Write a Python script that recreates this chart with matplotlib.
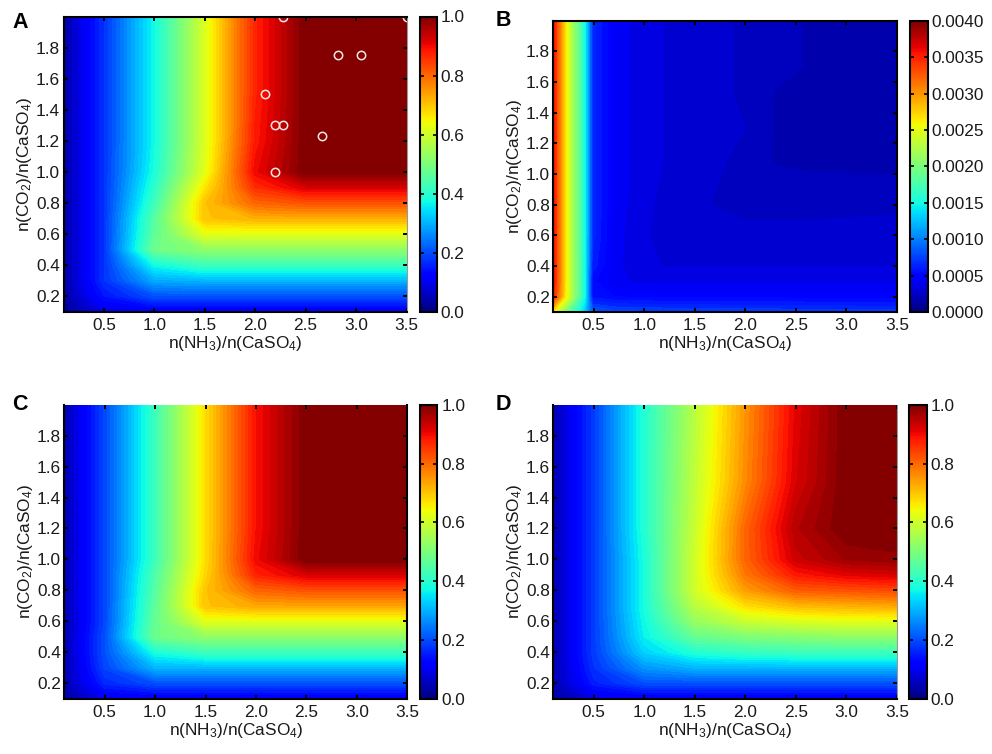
import numpy as np
import matplotlib
matplotlib.use("Agg")
import matplotlib.pyplot as plt
from matplotlib.cm import ScalarMappable
from matplotlib.colors import Normalize

plt.rcParams['font.family'] = ['Liberation Sans', 'DejaVu Sans']
plt.rcParams['mathtext.default'] = 'regular'

x_ratio = [0.1, 0.5, 1.0, 1.5, 2.0, 2.5, 3.0, 3.5]
y_ratio = [0.1, 0.2, 0.3, 0.4, 0.5, 0.6, 0.7, 0.8, 0.9, 1.0, 1.2, 1.5, 2.0]

panel_a = [
    [0.02, 0.09, 0.10, 0.10, 0.10, 0.10, 0.10, 0.10],
    [0.03, 0.14, 0.20, 0.20, 0.20, 0.20, 0.20, 0.20],
    [0.03, 0.17, 0.29, 0.30, 0.30, 0.30, 0.30, 0.30],
    [0.03, 0.17, 0.37, 0.42, 0.42, 0.42, 0.42, 0.42],
    [0.03, 0.17, 0.48, 0.52, 0.52, 0.52, 0.52, 0.52],
    [0.03, 0.17, 0.46, 0.62, 0.62, 0.62, 0.62, 0.62],
    [0.03, 0.17, 0.45, 0.70, 0.72, 0.72, 0.72, 0.72],
    [0.03, 0.17, 0.42, 0.70, 0.80, 0.82, 0.82, 0.82],
    [0.03, 0.17, 0.40, 0.66, 0.86, 0.92, 0.92, 0.92],
    [0.03, 0.17, 0.38, 0.62, 0.90, 1.00, 1.00, 1.00],
    [0.03, 0.17, 0.37, 0.61, 0.88, 1.00, 1.00, 1.00],
    [0.03, 0.17, 0.37, 0.61, 0.87, 1.00, 1.00, 1.00],
    [0.03, 0.17, 0.37, 0.61, 0.87, 1.00, 1.00, 1.00],
]
panel_c = [
    [0.03, 0.10, 0.10, 0.10, 0.10, 0.10, 0.10, 0.10],
    [0.04, 0.16, 0.20, 0.20, 0.20, 0.20, 0.20, 0.20],
    [0.04, 0.19, 0.30, 0.30, 0.30, 0.30, 0.30, 0.30],
    [0.04, 0.20, 0.38, 0.42, 0.42, 0.42, 0.42, 0.42],
    [0.04, 0.20, 0.48, 0.52, 0.52, 0.52, 0.52, 0.52],
    [0.04, 0.19, 0.47, 0.62, 0.62, 0.62, 0.62, 0.62],
    [0.04, 0.19, 0.46, 0.70, 0.73, 0.73, 0.73, 0.73],
    [0.04, 0.19, 0.45, 0.70, 0.80, 0.82, 0.82, 0.82],
    [0.04, 0.19, 0.44, 0.68, 0.87, 0.92, 0.92, 0.92],
    [0.04, 0.19, 0.42, 0.67, 0.90, 1.00, 1.00, 1.00],
    [0.04, 0.19, 0.42, 0.67, 0.89, 1.00, 1.00, 1.00],
    [0.04, 0.19, 0.42, 0.67, 0.89, 1.00, 1.00, 1.00],
    [0.04, 0.19, 0.42, 0.67, 0.89, 1.00, 1.00, 1.00],
]
panel_d = [
    [0.03, 0.09, 0.10, 0.10, 0.10, 0.10, 0.10, 0.10],
    [0.04, 0.15, 0.20, 0.20, 0.20, 0.20, 0.20, 0.20],
    [0.04, 0.17, 0.27, 0.30, 0.30, 0.30, 0.30, 0.30],
    [0.04, 0.18, 0.33, 0.39, 0.41, 0.42, 0.42, 0.42],
    [0.04, 0.18, 0.36, 0.47, 0.50, 0.51, 0.52, 0.52],
    [0.04, 0.18, 0.37, 0.53, 0.59, 0.61, 0.62, 0.62],
    [0.04, 0.18, 0.38, 0.57, 0.67, 0.71, 0.72, 0.73],
    [0.04, 0.18, 0.38, 0.60, 0.74, 0.81, 0.82, 0.83],
    [0.04, 0.18, 0.38, 0.60, 0.78, 0.88, 0.91, 0.92],
    [0.04, 0.18, 0.38, 0.60, 0.80, 0.93, 0.97, 0.98],
    [0.04, 0.18, 0.39, 0.59, 0.80, 0.95, 1.00, 1.00],
    [0.04, 0.18, 0.39, 0.58, 0.76, 0.92, 1.00, 1.00],
    [0.04, 0.18, 0.39, 0.57, 0.75, 0.91, 1.00, 1.00],
]

x_ratio_b = [0.1, 0.24, 0.41, 0.49, 0.7, 0.87, 1.2, 1.65, 2.0, 2.3, 2.65, 3.5]
y_ratio_b = [0.1, 0.2, 0.3, 0.4, 0.6, 0.8, 1.1, 1.3, 1.5, 1.7, 2.0]
panel_b = [
    [.0026, .0019, .0013, .00085, .00078, .00077, .00076, .00075, .00074, .00074, .00073, .00072],
    [.0035, .0025, .0015, .00054, .00050, .00049, .00048, .00048, .00048, .00048, .00047, .00047],
    [.0036, .0025, .0015, .00052, .00040, .00037, .00036, .00036, .00036, .00036, .00036, .00036],
    [.0036, .0025, .0015, .00060, .00041, .00034, .00031, .00031, .00031, .00031, .00031, .00031],
    [.0036, .0025, .0015, .00065, .00042, .00034, .00029, .00028, .00027, .00027, .00027, .00027],
    [.0036, .0025, .0015, .00065, .00043, .00036, .00029, .00025, .00023, .00023, .00023, .00024],
    [.0036, .0025, .0015, .00065, .00043, .00037, .00031, .00027, .00023, .00018, .00017, .00016],
    [.0036, .0025, .0015, .00065, .00043, .00037, .00031, .00027, .00025, .00018, .00015, .00014],
    [.0036, .0025, .0015, .00065, .00043, .00037, .00031, .00027, .00024, .00018, .00015, .00014],
    [.0036, .0025, .0015, .00065, .00043, .00037, .00031, .00027, .00024, .00021, .00018, .00014],
    [.0036, .0025, .0015, .00065, .00043, .00037, .00031, .00027, .00024, .00021, .00018, .00014],
]

marker_x = [2.28, 3.5, 2.82, 3.05, 2.1, 2.2, 2.28, 2.66, 2.2]
marker_y = [2.0, 2.0, 1.75, 1.75, 1.5, 1.3, 1.3, 1.23, 1.0]

x_ticks = [0.5, 1.0, 1.5, 2.0, 2.5, 3.0, 3.5]
y_ticks = [0.2, 0.4, 0.6, 0.8, 1.0, 1.2, 1.4, 1.6, 1.8]
cbar_ticks_unit = [0.0, 0.2, 0.4, 0.6, 0.8, 1.0]
cbar_ticks_b = [0.0, 0.0005, 0.0010, 0.0015, 0.0020, 0.0025, 0.0030, 0.0035, 0.0040]
x_label = r'n(NH$_3$)/n(CaSO$_4$)'
y_label = r'n(CO$_2$)/n(CaSO$_4$)'

W, H = 992, 754
fig = plt.figure(figsize=(W / 100, H / 100), dpi=100)
TXT = '#1a1a1a'
FS = 12.4


def rect(l, t, r, b):
    return [l / W, 1 - b / H, (r - l) / W, (b - t) / H]


def panel(letter, letter_xy, box, cbox, xs, ys, z, vmax, cticks, cfmt,
          top_spine=True, right_color='black', right_lw=1.5):
    ax = fig.add_axes(rect(*box))
    levels = np.linspace(0, vmax, 65)
    ax.contourf(xs, ys, np.array(z), levels=levels, cmap='jet', vmin=0, vmax=vmax)
    ax.set_xlim(0.1, 3.5)
    ax.set_ylim(0.1, 2.0)
    ax.set_xticks(x_ticks, [f'{v:.1f}' for v in x_ticks])
    ax.set_yticks(y_ticks, [f'{v:.1f}' for v in y_ticks])
    ax.tick_params(direction='in', length=3, width=1.4, top=True, right=True,
                   labelsize=FS, labelcolor=TXT, pad=2.5)
    ax.tick_params(axis='x', pad=4.5)
    for s in ax.spines.values():
        s.set_linewidth(1.5)
    ax.spines['top'].set_visible(top_spine)
    ax.spines['right'].set_color(right_color)
    ax.spines['right'].set_linewidth(right_lw)
    ax.set_xlabel(x_label, fontsize=FS, color=TXT)
    ax.set_ylabel(y_label, fontsize=FS, color=TXT)
    ax_h = box[3] - box[1]
    ax_w = box[2] - box[0]
    ax.xaxis.set_label_coords(0.5, -(334 - 311.7) / ax_h)
    ax.yaxis.set_label_coords(-(63.5 - 34) / ax_w, 0.5)
    cax = fig.add_axes(rect(*cbox))
    sm = ScalarMappable(norm=Normalize(0, vmax), cmap='jet')
    cb = fig.colorbar(sm, cax=cax, ticks=cticks)
    cb.ax.set_yticklabels([cfmt.format(v) for v in cticks])
    cax.tick_params(direction='in', length=3, width=1.2, left=True, right=True,
                    labelsize=FS, labelcolor=TXT, pad=3)
    cb.outline.set_linewidth(1.5)
    fig.text(letter_xy[0] / W, 1 - letter_xy[1] / H, letter, fontsize=15.5,
             fontweight='bold', color='black', ha='left', va='center')
    return ax


ax_a = panel('A', (12, 22), (63.5, 16.5, 406.5, 311.7), (419.5, 16.5, 436.7, 311.7),
             x_ratio, y_ratio, panel_a, 1.0, cbar_ticks_unit, '{:.1f}',
             right_color='#999999', right_lw=0.8)
ax_a.plot(marker_x, marker_y, ls='none', marker='o', ms=6, mfc='none',
          mec='#f3e6e6', mew=1.1, clip_on=True, zorder=1.5)
panel('B', (496, 21), (553.3, 20.7, 897, 312), (910, 21, 927.7, 312),
      x_ratio_b, y_ratio_b, panel_b, 0.004, cbar_ticks_b, '{:.4f}')
panel('C', (12, 404), (64.3, 404.7, 407.3, 698.7), (419.7, 404.7, 437, 698.7),
      x_ratio, y_ratio, panel_c, 1.0, cbar_ticks_unit, '{:.1f}', top_spine=False)
panel('D', (496, 404), (553.3, 404.7, 897, 698.7), (908.7, 404.7, 926.7, 698.7),
      x_ratio, y_ratio, panel_d, 1.0, cbar_ticks_unit, '{:.1f}', top_spine=False,
      right_color='#999999', right_lw=0.8)

fig.savefig('out.png', dpi=100)
